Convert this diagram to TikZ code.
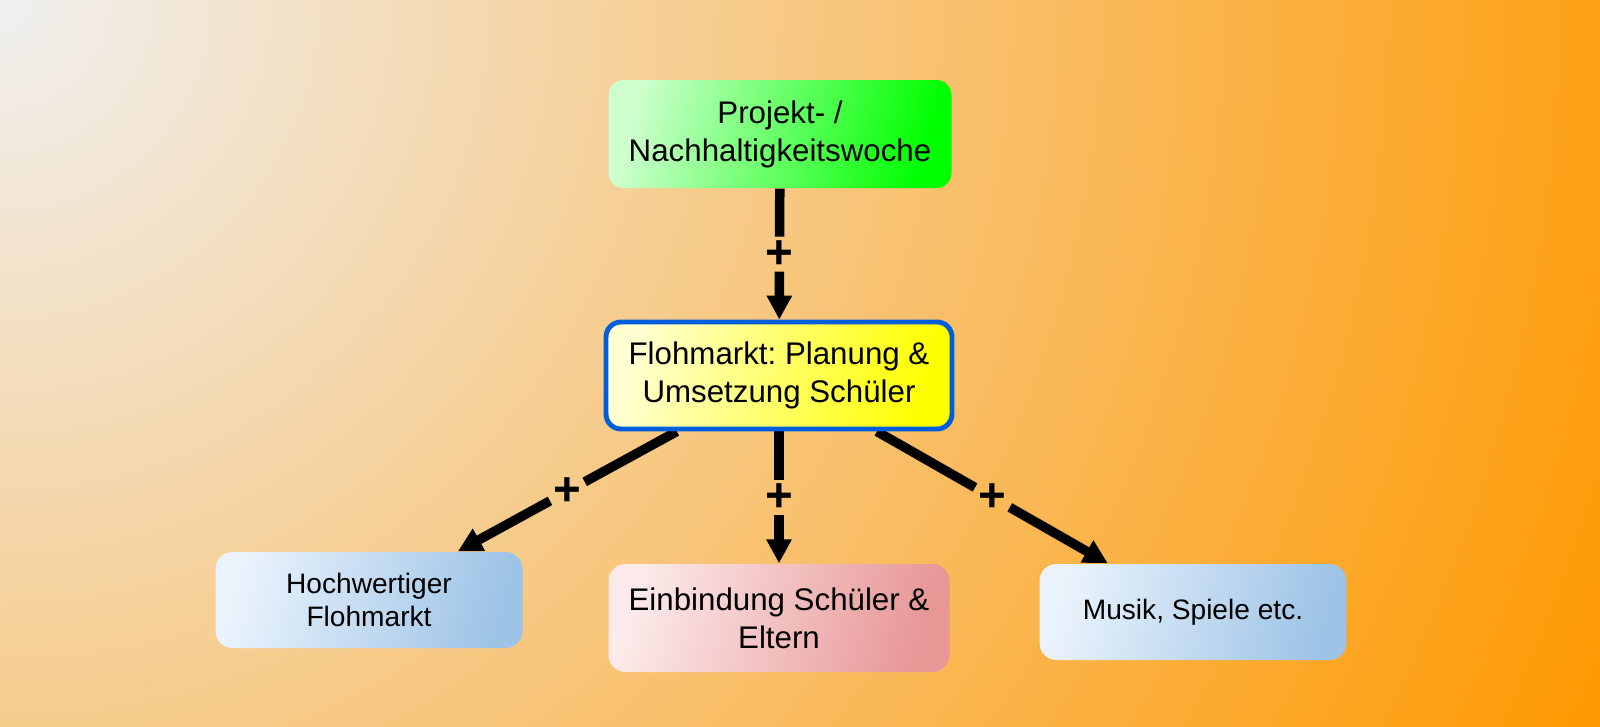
\documentclass[tikz,border=0pt]{standalone}
\usepackage{fontspec}
\setmainfont{Liberation Sans}
\usetikzlibrary{arrows.meta}
\frenchspacing

\definecolor{bgLight}{RGB}{240,240,240}
\definecolor{bgOrange}{RGB}{255,153,0}
\definecolor{weekLight}{RGB}{204,255,204}
\definecolor{weekDark}{RGB}{0,255,0}
\definecolor{planLight}{RGB}{255,255,210}
\definecolor{planDark}{RGB}{255,255,0}
\definecolor{planEdge}{RGB}{0,94,220}
\definecolor{ideaLight}{RGB}{234,243,252}
\definecolor{ideaDark}{RGB}{157,195,230}
\definecolor{pupilLight}{RGB}{252,234,234}
\definecolor{pupilDark}{RGB}{232,150,150}

\pgfdeclarelayer{backdrop}
\pgfdeclarelayer{links}
\pgfsetlayers{backdrop,links,main}

\begin{document}
\begin{tikzpicture}[
    >={Triangle[length=0.24cm, width=0.24cm]},
    % Styling for Box Types
    box/.style={rectangle, rounded corners=1.5mm, align=center, text=black, font=\fontsize{8.9}{10.8}\selectfont},
    week/.style={box, minimum width=3.43cm, minimum height=1.08cm, left color=weekLight, right color=weekDark, shading angle=75},
    plan/.style={box, minimum width=3.46cm, minimum height=1.07cm, draw=planEdge, line width=1.4pt, left color=planLight, right color=planDark, shading angle=75},
    idea/.style={box, rounded corners=1.7mm, minimum width=3.07cm, minimum height=0.96cm, font=\fontsize{8}{9.6}\selectfont, left color=ideaLight, right color=ideaDark, shading angle=75},
    pupil/.style={box, rounded corners=1.7mm, minimum width=3.41cm, minimum height=1.08cm, left color=pupilLight, right color=pupilDark, shading angle=75},
    link/.style={line width=2.7pt, black},
    plus/.style={font=\bfseries\fontsize{13.5}{14}\selectfont, inner sep=0.8pt}
]

    \useasboundingbox (0,0) rectangle (16,7.26);

    % Background Gradient (radial from top left corner)
    \begin{pgfonlayer}{backdrop}
        \begin{scope}
            \clip (0,0) rectangle (16,7.26);
            \shade[inner color=bgLight, outer color=bgOrange] (0,7.26) circle (17.57cm);
        \end{scope}
    \end{pgfonlayer}

    % Top Box
    \node[week] (woche) at (7.80,5.92) {Projekt- /\\Nachhaltigkeitswoche};

    % Center Box
    \node[plan] (markt) at (7.79,3.505) {Flohmarkt: Planung \&\\Umsetzung Schüler};

    % Result Boxes
    \node[idea]  (hochwertig) at (3.69,1.26)  {Hochwertiger\\Flohmarkt};
    \node[pupil] (eltern)     at (7.79,1.08)  {Einbindung Schüler \&\\Eltern};
    \node[idea]  (musik)      at (11.93,1.14) {Musik, Spiele etc.};

    % Plus Connectors
    \begin{pgfonlayer}{links}
        \path (woche) -- node[plus] (p1) {+} (markt);
        \draw[link] (woche) -- (p1);
        \draw[link, ->] (p1) -- (markt);

        \foreach \target/\mark in {hochwertig/p2, eltern/p3, musik/p4} {
            \path (markt) -- node[plus] (\mark) {+} (\target);
            \draw[link] (markt) -- (\mark);
            \draw[link, ->] (\mark) -- (\target);
        }
    \end{pgfonlayer}

\end{tikzpicture}
\end{document}
